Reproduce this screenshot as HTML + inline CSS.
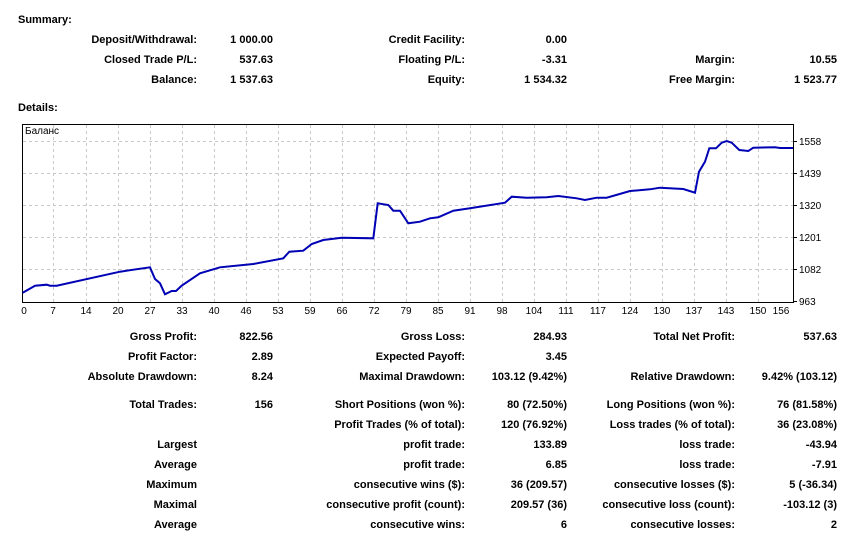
<!DOCTYPE html>
<html><head><meta charset="utf-8"><style>
body{margin:0;width:853px;height:534px;background:#fff;position:relative;overflow:hidden;font-family:"Liberation Sans",Tahoma,sans-serif;font-size:11px;font-weight:bold;color:#000}
.t{position:absolute;white-space:nowrap;line-height:14px}
.a{width:240px;text-align:right}
</style></head><body>
<div class="t" style="left:18px;top:13px">Summary:</div>
<div class="t" style="left:18px;top:101px">Details:</div>
<div id="c"></div>
<svg style="position:absolute;left:0;top:0" width="853" height="534">
<g stroke="#c8c8c8" stroke-dasharray="3,3" stroke-width="1">
<line x1="23" x2="793" y1="141.5" y2="141.5"/><line x1="23" x2="793" y1="173.5" y2="173.5"/><line x1="23" x2="793" y1="205.5" y2="205.5"/><line x1="23" x2="793" y1="237.5" y2="237.5"/><line x1="23" x2="793" y1="269.5" y2="269.5"/>
<line x1="53.5" x2="53.5" y1="125" y2="303"/><line x1="86.5" x2="86.5" y1="125" y2="303"/><line x1="118.5" x2="118.5" y1="125" y2="303"/><line x1="150.5" x2="150.5" y1="125" y2="303"/><line x1="182.5" x2="182.5" y1="125" y2="303"/><line x1="214.5" x2="214.5" y1="125" y2="303"/><line x1="246.5" x2="246.5" y1="125" y2="303"/><line x1="278.5" x2="278.5" y1="125" y2="303"/><line x1="310.5" x2="310.5" y1="125" y2="303"/><line x1="342.5" x2="342.5" y1="125" y2="303"/><line x1="374.5" x2="374.5" y1="125" y2="303"/><line x1="406.5" x2="406.5" y1="125" y2="303"/><line x1="438.5" x2="438.5" y1="125" y2="303"/><line x1="470.5" x2="470.5" y1="125" y2="303"/><line x1="502.5" x2="502.5" y1="125" y2="303"/><line x1="534.5" x2="534.5" y1="125" y2="303"/><line x1="566.5" x2="566.5" y1="125" y2="303"/><line x1="598.5" x2="598.5" y1="125" y2="303"/><line x1="630.5" x2="630.5" y1="125" y2="303"/><line x1="662.5" x2="662.5" y1="125" y2="303"/><line x1="694.5" x2="694.5" y1="125" y2="303"/><line x1="726.5" x2="726.5" y1="125" y2="303"/><line x1="758.5" x2="758.5" y1="125" y2="303"/>
</g>
<rect x="22.5" y="124.5" width="771" height="178" fill="none" stroke="#000"/>
<g stroke="#000"><line x1="794" x2="797" y1="141.5" y2="141.5"/><line x1="794" x2="797" y1="173.5" y2="173.5"/><line x1="794" x2="797" y1="205.5" y2="205.5"/><line x1="794" x2="797" y1="237.5" y2="237.5"/><line x1="794" x2="797" y1="269.5" y2="269.5"/><line x1="794" x2="797" y1="301.5" y2="301.5"/></g>
<polyline fill="none" stroke="#0000b4" stroke-width="2" points="22.7,292.7 35,285.7 46.7,284.7 50,285.7 56.7,285.7 120,271.7 150,267.3 155,279 160,283.3 165,294.3 171.7,291 176,291 181.7,285.7 200,273.3 220,267.3 253.3,264 283.3,258.3 289.3,251.7 303.3,250.7 311.7,244 323.3,240 341.7,237.7 373.3,238.3 377.7,203.3 388.3,205 393.3,210.7 400,210.7 408.3,223.3 420,221.7 430,218.3 438.3,217.3 453.3,210.7 470,208.3 505,202.7 511.7,196.7 526.7,197.7 546.7,197.3 558.3,196 576.7,198.3 585,200 596.7,197.7 606.7,197.7 630,191 650,189.3 660,187.7 683.3,189 695,192.7 699,171.7 705,161.7 709.3,148.3 716,148.3 721.7,142.7 726.7,141 731.7,142.7 739.3,150 748.3,151 753.3,147.7 775,147.3 780,148 793,148"/>
<g font-family="Liberation Sans,Tahoma,sans-serif" font-size="10" font-weight="normal" fill="#000">
<text x="25" y="134">Баланс</text>
<text x="799" y="145">1558</text><text x="799" y="177">1439</text><text x="799" y="209">1320</text><text x="799" y="241">1201</text><text x="799" y="273">1082</text><text x="799" y="305">963</text>
<g text-anchor="middle">
<text x="24" y="314">0</text><text x="53" y="314">7</text><text x="86" y="314">14</text><text x="118" y="314">20</text><text x="150" y="314">27</text><text x="182" y="314">33</text><text x="214" y="314">40</text><text x="246" y="314">46</text><text x="278" y="314">53</text><text x="310" y="314">59</text><text x="342" y="314">66</text><text x="374" y="314">72</text><text x="406" y="314">79</text><text x="438" y="314">85</text><text x="470" y="314">91</text><text x="502" y="314">98</text><text x="534" y="314">104</text><text x="566" y="314">111</text><text x="598" y="314">117</text><text x="630" y="314">124</text><text x="662" y="314">130</text><text x="694" y="314">137</text><text x="726" y="314">143</text><text x="758" y="314">150</text><text x="781" y="314">156</text>
</g></g>
</svg>
<script>
var rows=[
[33,"Deposit/Withdrawal:","1 000.00","Credit Facility:","0.00","",""],
[53,"Closed Trade P/L:","537.63","Floating P/L:","-3.31","Margin:","10.55"],
[73,"Balance:","1 537.63","Equity:","1 534.32","Free Margin:","1 523.77"],
[330,"Gross Profit:","822.56","Gross Loss:","284.93","Total Net Profit:","537.63"],
[350,"Profit Factor:","2.89","Expected Payoff:","3.45","",""],
[370,"Absolute Drawdown:","8.24","Maximal Drawdown:","103.12 (9.42%)","Relative Drawdown:","9.42% (103.12)"],
[398,"Total Trades:","156","Short Positions (won %):","80 (72.50%)","Long Positions (won %):","76 (81.58%)"],
[418,"","","Profit Trades (% of total):","120 (76.92%)","Loss trades (% of total):","36 (23.08%)"],
[438,"Largest","","profit trade:","133.89","loss trade:","-43.94"],
[458,"Average","","profit trade:","6.85","loss trade:","-7.91"],
[478,"Maximum","","consecutive wins ($):","36 (209.57)","consecutive losses ($):","5 (-36.34)"],
[498,"Maximal","","consecutive profit (count):","209.57 (36)","consecutive loss (count):","-103.12 (3)"],
[518,"Average","","consecutive wins:","6","consecutive losses:","2"]];
var xs=[197,273,465,567,735,837],h="";
rows.forEach(function(r){for(var i=0;i<6;i++){if(r[i+1])h+='<div class="t a" style="top:'+r[0]+'px;left:'+(xs[i]-240)+'px">'+r[i+1]+'</div>';}});
document.getElementById("c").innerHTML=h;
</script>
</body></html>
